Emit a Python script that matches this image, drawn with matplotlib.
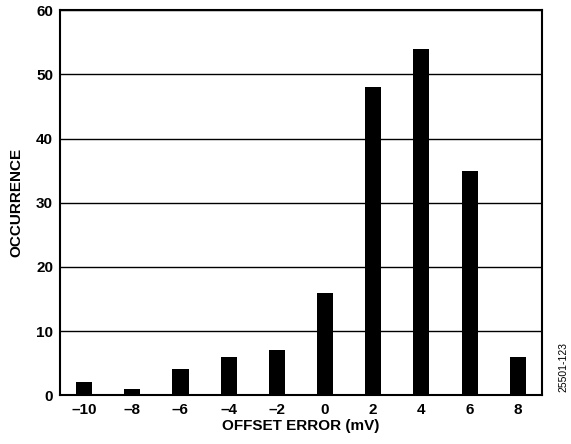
import matplotlib
matplotlib.use("Agg")
import matplotlib.pyplot as plt

offsets = [-10, -8, -6, -4, -2, 0, 2, 4, 6, 8]
occurrence = [2, 1, 4, 6, 7, 16, 48, 54, 35, 6]
x_ticklabels = ["\u201310", "\u20138", "\u20136", "\u20134", "\u20132", "0", "2", "4", "6", "8"]
y_ticks = [0, 10, 20, 30, 40, 50, 60]

plt.rcParams['font.family'] = ['Liberation Sans', 'DejaVu Sans']
plt.rcParams['font.weight'] = 'bold'

fig = plt.figure(figsize=(5.71, 4.44), dpi=100)
ax = fig.add_axes([0.105, 0.110, 0.844, 0.867])
ax.bar(offsets, occurrence, width=0.67, color='black', zorder=3)
ax.set_xlim(-11, 9)
ax.set_ylim(0, 60)
ax.set_yticks(y_ticks)
ax.set_xticks(offsets)
ax.set_xticklabels(x_ticklabels)
ax.yaxis.grid(True, color='black', linewidth=1.0, zorder=1)
ax.tick_params(axis='y', length=0, labelsize=11, pad=5)
ax.tick_params(axis='x', length=0, labelsize=11, pad=6)
for lab in ax.get_xticklabels() + ax.get_yticklabels():
    lab.set_fontweight('bold')
for s in ax.spines.values():
    s.set_linewidth(1.5)
ax.set_xlabel("OFFSET ERROR (mV)", fontsize=11, fontweight='bold', labelpad=1)
ax.set_ylabel("OCCURRENCE", fontsize=11, fontweight='bold', labelpad=9)
fig.text(0.995, 0.117, "25501-123", rotation=90, fontsize=7.5, fontweight='normal',
         ha='right', va='bottom')
fig.savefig("out.png", dpi=100)
